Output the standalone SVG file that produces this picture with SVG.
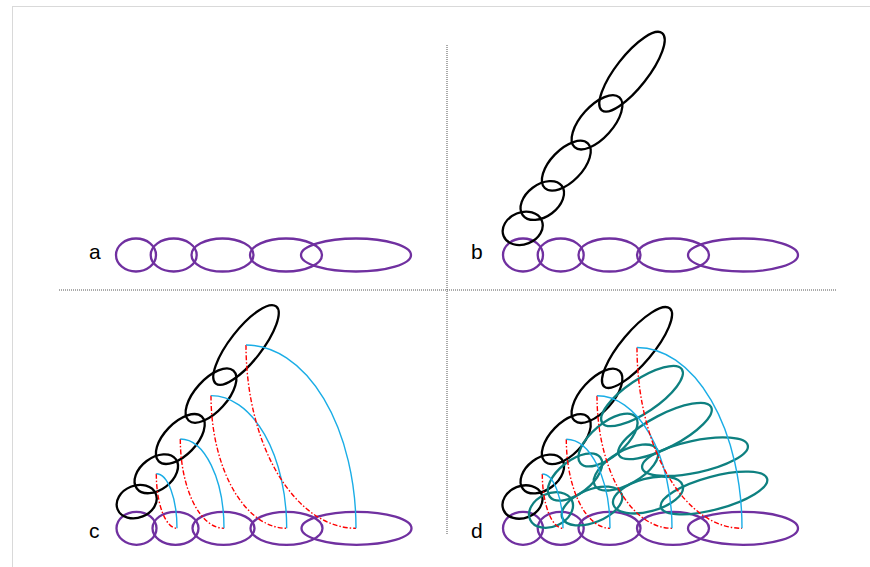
<svg xmlns="http://www.w3.org/2000/svg" width="870" height="567" viewBox="0 0 870 567">
<style>
.frame{fill:none;stroke:#d9d9d9;stroke-width:1}
.div{fill:none;stroke:#555;stroke-width:1;stroke-dasharray:1 1}
.p{fill:none;stroke:#7030A0;stroke-width:2.3}
.k{fill:none;stroke:#000;stroke-width:2.3}
.t{fill:none;stroke:#0E8080;stroke-width:2.3}
.bl{fill:none;stroke:#1AADE6;stroke-width:1.4}
.rd{fill:none;stroke:#FF0000;stroke-width:1.4;stroke-dasharray:5 2 1.5 2}
.lbl{font-family:"Liberation Sans",Arial,sans-serif;font-size:21px;fill:#000}
</style>
<rect x="0" y="0" width="870" height="567" fill="#fff"/>
<rect class="frame" x="12.5" y="6.5" width="870" height="580"/>
<g id="dividers">
<line class="div" x1="447" y1="45" x2="447" y2="535"/>
<line class="div" x1="59" y1="290" x2="836" y2="290"/>
</g>
<g id="labels">
<text class="lbl" x="89" y="259">a</text>
<text class="lbl" x="471" y="259">b</text>
<text class="lbl" x="89" y="538">c</text>
<text class="lbl" x="471" y="538">d</text>
</g>
<g id="panel-a">
<g id="a-p1"><ellipse class="p" cx="136" cy="255" rx="20" ry="16.5"/></g>
<g id="a-p2"><ellipse class="p" cx="173.7" cy="255" rx="23" ry="16.5"/></g>
<g id="a-p3"><ellipse class="p" cx="222.5" cy="255" rx="31" ry="16.5"/></g>
<g id="a-p4"><ellipse class="p" cx="286" cy="255" rx="36" ry="16.5"/></g>
<g id="a-p5"><ellipse class="p" cx="356" cy="255" rx="55" ry="16.5"/></g>
</g>
<g id="panel-b">
<g id="b-p1"><ellipse class="p" cx="523" cy="255" rx="20" ry="16.5"/></g>
<g id="b-p2"><ellipse class="p" cx="560.7" cy="255" rx="23" ry="16.5"/></g>
<g id="b-p3"><ellipse class="p" cx="609.5" cy="255" rx="31" ry="16.5"/></g>
<g id="b-p4"><ellipse class="p" cx="673" cy="255" rx="36" ry="16.5"/></g>
<g id="b-p5"><ellipse class="p" cx="743" cy="255" rx="55" ry="16.5"/></g>
<g id="b-k1"><ellipse class="k" cx="0" cy="0" rx="20.6" ry="16" transform="translate(522.7 228.3) rotate(-22)"/></g>
<g id="b-k2"><ellipse class="k" cx="0" cy="0" rx="24.4" ry="16" transform="translate(542.3 200.5) rotate(-37)"/></g>
<g id="b-k3"><ellipse class="k" cx="0" cy="0" rx="31" ry="16" transform="translate(566.3 165.7) rotate(-46)"/></g>
<g id="b-k4"><ellipse class="k" cx="0" cy="0" rx="33.5" ry="16" transform="translate(597 122.3) rotate(-48)"/></g>
<g id="b-k5"><ellipse class="k" cx="0" cy="0" rx="49" ry="16" transform="translate(632 71.7) rotate(-52)"/></g>
</g>
<g id="panel-c">
<g id="c-p1"><ellipse class="p" cx="136.5" cy="528.3" rx="20" ry="16.5"/></g>
<g id="c-p2"><ellipse class="p" cx="175.5" cy="528.3" rx="23" ry="16.5"/></g>
<g id="c-p3"><ellipse class="p" cx="223.5" cy="528.3" rx="31" ry="16.5"/></g>
<g id="c-p4"><ellipse class="p" cx="286.5" cy="528.3" rx="36" ry="16.5"/></g>
<g id="c-p5"><ellipse class="p" cx="356.5" cy="528.3" rx="55" ry="16.5"/></g>
<g id="c-k1"><ellipse class="k" cx="0" cy="0" rx="20.6" ry="16" transform="translate(136.7 501.6) rotate(-22)"/></g>
<g id="c-k2"><ellipse class="k" cx="0" cy="0" rx="24.4" ry="16" transform="translate(156.3 473.8) rotate(-37)"/></g>
<g id="c-k3"><ellipse class="k" cx="0" cy="0" rx="31" ry="16" transform="translate(180.3 439) rotate(-46)"/></g>
<g id="c-k4"><ellipse class="k" cx="0" cy="0" rx="33.5" ry="16" transform="translate(211 395.6) rotate(-48)"/></g>
<g id="c-k5"><ellipse class="k" cx="0" cy="0" rx="49" ry="16" transform="translate(246 345) rotate(-52)"/></g>
</g>
<g id="panel-d">
<g id="d-p1"><ellipse class="p" cx="523" cy="528.3" rx="20" ry="16.5"/></g>
<g id="d-p2"><ellipse class="p" cx="560.7" cy="528.3" rx="23" ry="16.5"/></g>
<g id="d-p3"><ellipse class="p" cx="609.5" cy="528.3" rx="31" ry="16.5"/></g>
<g id="d-p4"><ellipse class="p" cx="673" cy="528.3" rx="36" ry="16.5"/></g>
<g id="d-p5"><ellipse class="p" cx="743" cy="528.3" rx="55" ry="16.5"/></g>
<g id="d-k1"><ellipse class="k" cx="0" cy="0" rx="20.6" ry="16" transform="translate(522.5 502) rotate(-22)"/></g>
<g id="d-k2"><ellipse class="k" cx="0" cy="0" rx="24.4" ry="16" transform="translate(542.3 474) rotate(-37)"/></g>
<g id="d-k3"><ellipse class="k" cx="0" cy="0" rx="31" ry="16" transform="translate(566.3 439.2) rotate(-46)"/></g>
<g id="d-k4"><ellipse class="k" cx="0" cy="0" rx="33.5" ry="16" transform="translate(597 395.8) rotate(-48)"/></g>
<g id="d-k5"><ellipse class="k" cx="0" cy="0" rx="51" ry="16" transform="translate(637 347.5) rotate(-50)"/></g>
<g id="d-t5a"><ellipse class="t" cx="0" cy="0" rx="48" ry="16.5" transform="translate(642 396) rotate(-34)"/></g>
<g id="d-t5b"><ellipse class="t" cx="0" cy="0" rx="52" ry="16.5" transform="translate(665 431) rotate(-27.5)"/></g>
<g id="d-t5c"><ellipse class="t" cx="0" cy="0" rx="54" ry="16" transform="translate(695 456.7) rotate(-12)"/></g>
<g id="d-t5d"><ellipse class="t" cx="0" cy="0" rx="55" ry="16.5" transform="translate(714 493) rotate(-15)"/></g>
<g id="d-t4a"><ellipse class="t" cx="0" cy="0" rx="36" ry="16.5" transform="translate(608 440) rotate(-40)"/></g>
<g id="d-t4b"><ellipse class="t" cx="0" cy="0" rx="36" ry="16.5" transform="translate(626 467.5) rotate(-30)"/></g>
<g id="d-t4c"><ellipse class="t" cx="0" cy="0" rx="36" ry="16.5" transform="translate(648 495) rotate(-15)"/></g>
<g id="d-t3a"><ellipse class="t" cx="0" cy="0" rx="32" ry="16.5" transform="translate(575 477) rotate(-38)"/></g>
<g id="d-t3b"><ellipse class="t" cx="0" cy="0" rx="32" ry="16.5" transform="translate(592 506) rotate(-22)"/></g>
<g id="d-t2a"><ellipse class="t" cx="0" cy="0" rx="23" ry="16.5" transform="translate(551 510) rotate(-25)"/></g>
</g>
<g id="connectors">
<path class="rd" d="M156.3 473.8 A20.7 54.5 0 0 0 177 528.3"/>
<path class="bl" d="M156.3 473.8 A20.7 54.5 0 0 1 177 528.3"/>
<path class="rd" d="M180.3 439 A43.7 89.3 0 0 0 224 528.3"/>
<path class="bl" d="M180.3 439 A43.7 89.3 0 0 1 224 528.3"/>
<path class="rd" d="M211 395.6 A75.7 132.7 0 0 0 286.7 528.3"/>
<path class="bl" d="M211 395.6 A75.7 132.7 0 0 1 286.7 528.3"/>
<path class="rd" d="M246 345 A110 183.3 0 0 0 356 528.3"/>
<path class="bl" d="M246 345 A110 183.3 0 0 1 356 528.3"/>
<path class="rd" d="M542.3 474 A20.7 54.3 0 0 0 563 528.3"/>
<path class="bl" d="M542.3 474 A20.7 54.3 0 0 1 563 528.3"/>
<path class="rd" d="M566.3 439.2 A43.7 89.1 0 0 0 610 528.3"/>
<path class="bl" d="M566.3 439.2 A43.7 89.1 0 0 1 610 528.3"/>
<path class="rd" d="M597 395.8 A75 132.5 0 0 0 672 528.3"/>
<path class="bl" d="M597 395.8 A75 132.5 0 0 1 672 528.3"/>
<path class="rd" d="M637 347.5 A105 180.8 0 0 0 742 528.3"/>
<path class="bl" d="M637 347.5 A105 180.8 0 0 1 742 528.3"/>
</g>
</svg>
